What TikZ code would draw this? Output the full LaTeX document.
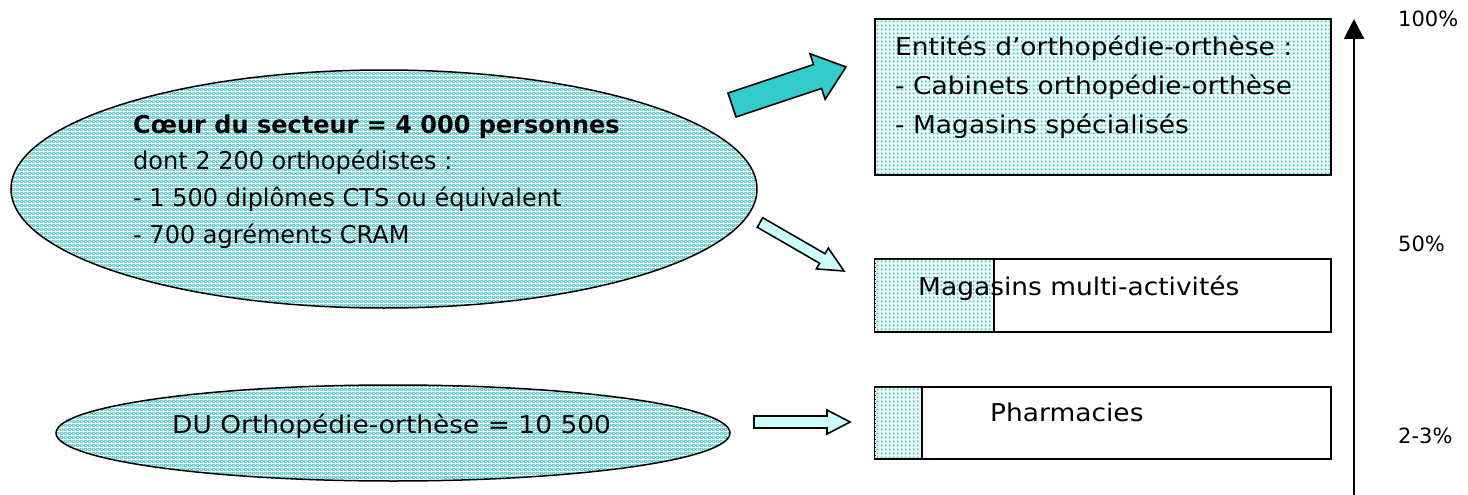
\documentclass[tikz,border=0pt]{standalone}
\usepackage{fontspec}
\setmainfont{DejaVu Sans}
\newfontfamily\vfont[FakeStretch=1.08]{DejaVu Sans}
\newfontfamily\tfont[FakeStretch=0.98]{DejaVu Sans}
\usetikzlibrary{shapes.geometric,calc,arrows.meta,patterns.meta}
\definecolor{tealarrow}{RGB}{51,204,204}
\definecolor{palecyan}{RGB}{204,255,255}
\definecolor{ellbg}{RGB}{96,205,205}
\definecolor{dotbg}{RGB}{222,246,246}
\definecolor{dotcol}{RGB}{40,196,196}
\tikzdeclarepattern{
  name=ellhatch, type=colored,
  bottom left={(0pt,0pt)}, top right={(4pt,4pt)}, tile size={(4pt,4pt)},
  code={
    \fill[ellbg] (0pt,0pt) rectangle (4pt,4pt);
    \fill[white] (2pt,1.1pt) -- (2.9pt,2pt) -- (2pt,2.9pt) -- (1.1pt,2pt) -- cycle;
    \fill[white] (0pt,-0.9pt) -- (0.9pt,0pt) -- (0pt,0.9pt) -- (-0.9pt,0pt) -- cycle;
    \fill[white] (4pt,-0.9pt) -- (4.9pt,0pt) -- (4pt,0.9pt) -- (3.1pt,0pt) -- cycle;
    \fill[white] (0pt,3.1pt) -- (0.9pt,4pt) -- (0pt,4.9pt) -- (-0.9pt,4pt) -- cycle;
    \fill[white] (4pt,3.1pt) -- (4.9pt,4pt) -- (4pt,4.9pt) -- (3.1pt,4pt) -- cycle;
  }}
\tikzdeclarepattern{
  name=boxdots, type=colored,
  bottom left={(0pt,0pt)}, top right={(4pt,4pt)}, tile size={(4pt,4pt)},
  code={
    \fill[dotbg] (0pt,0pt) rectangle (4pt,4pt);
    \fill[dotcol] (2pt,2pt) circle (1.15pt);
  }}
\newcommand\blockarrow[6]{%
  \coordinate (ba-base) at ($(#2)!#5!(#1)$);
  \draw[#6] ($(#1)!#3!90:(#2)$) -- ($(ba-base)!#3!-90:(#1)$) -- ($(ba-base)!#4!-90:(#1)$) -- (#2)
    -- ($(ba-base)!#4!90:(#1)$) -- ($(ba-base)!#3!90:(#1)$) -- ($(#1)!#3!-90:(#2)$) -- cycle;
}
\begin{document}
\begin{tikzpicture}[x=1pt,y=-1pt,
  ell/.style={ellipse, draw, line width=1.5pt, pattern=ellhatch, inner sep=0pt},
  frame/.style={rectangle, draw, line width=2pt, inner sep=0pt, anchor=north west},
  dotted fill/.style={pattern=boxdots},
  txt/.style={inner sep=0pt, anchor=base west},
  etxt/.style={txt, font=\tfont\fontsize{24.5}{30}\selectfont},
  btxt/.style={txt, font=\vfont\fontsize{24.5}{30}\selectfont},
  ptxt/.style={txt, font=\fontsize{21}{26}\selectfont},
  blk/.style={draw, line width=1.6pt, line join=miter}]
\useasboundingbox (0,0) rectangle (1468,495);
% ellipses
\node[ell, minimum width=746pt, minimum height=238pt] (core) at (384,189) {};
\node[ell, minimum width=674pt, minimum height=96pt] (du) at (393,433) {};
\node[etxt, font=\tfont\bfseries\fontsize{24.5}{30}\selectfont] (l1) at (133,133) {Cœur du secteur = 4 000 personnes};
\node[etxt] (l2) at (133,169.5) {dont 2 200 orthopédistes :};
\node[etxt] (l3) at (133,206) {- 1 500 diplômes CTS ou équivalent};
\node[etxt] (l4) at (133,243) {- 700 agréments CRAM};
\node[btxt] (dut) at (172,433) {DU Orthopédie-orthèse = 10 500};
% boxes
\node[frame, dotted fill, minimum width=456pt, minimum height=156pt] (ent) at (874,18) {};
\node[btxt] (e1) at (895,56) {Entités d’orthopédie-orthèse :};
\node[btxt] (e2) at (895,94.5) {- Cabinets orthopédie-orthèse};
\node[btxt] (e3) at (895,133) {- Magasins spécialisés};
\node[frame, minimum width=456pt, minimum height=73pt] (mag) at (874,258) {};
\fill[dotted fill] (875,259) rectangle (994,330);
\draw[line width=1.5pt] (994,258) -- (994,331);
\node[btxt] (magt) at (918,295) {Magasins multi-activités};
\node[frame, minimum width=456pt, minimum height=72pt] (pha) at (874,386) {};
\fill[dotted fill] (875,387) rectangle (922,457);
\draw[line width=1.5pt] (922,386) -- (922,458);
\node[btxt] (phat) at (990,421) {Pharmacies};
% block arrows
\coordinate (a1t) at (732,105); \coordinate (a1h) at (846,67);
\coordinate (a2t) at (760,222.5); \coordinate (a2h) at (844,271);
\coordinate (a3t) at (754,422); \coordinate (a3h) at (850,422);
\blockarrow{a1t}{a1h}{12.6pt}{24pt}{30pt}{blk, fill=tealarrow}
\blockarrow{a2t}{a2h}{5.5pt}{12pt}{25pt}{blk, fill=palecyan}
\blockarrow{a3t}{a3h}{6pt}{12pt}{23pt}{blk, fill=palecyan}
% axis
\coordinate (axbot) at (1354,495); \coordinate (axtop) at (1354,19);
\draw[line width=2pt, -{Triangle[width=20pt,length=20pt]}] (axbot) -- (axtop);
\node[ptxt] (p100) at (1398,26.5) {100\%};
\node[ptxt] (p50) at (1398,251) {50\%};
\node[ptxt] (p23) at (1398,443) {2-3\%};
\end{tikzpicture}
\end{document}
